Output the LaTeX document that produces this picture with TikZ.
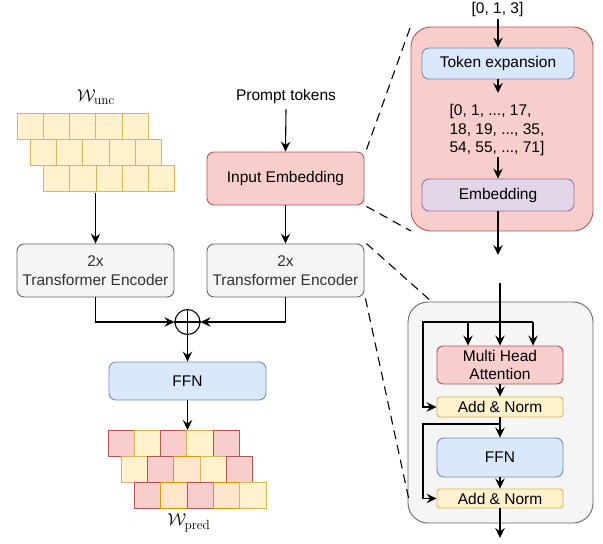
\documentclass[tikz,border=0pt]{standalone}
\usepackage{fontspec}
\setsansfont{Liberation Sans}
\usetikzlibrary{arrows.meta}

\definecolor{yfill}{HTML}{FFF2CC}\definecolor{ydraw}{HTML}{D6B656}
\definecolor{rfill}{HTML}{F8CECC}\definecolor{rdraw}{HTML}{B85450}
\definecolor{bfill}{HTML}{DAE8FC}\definecolor{bdraw}{HTML}{6C8EBF}
\definecolor{pfill}{HTML}{E1D5E7}\definecolor{pdraw}{HTML}{9673A6}
\definecolor{gfill}{HTML}{F5F5F5}\definecolor{gdraw}{HTML}{666666}
\definecolor{ofill}{HTML}{FFE6CC}\definecolor{odraw}{HTML}{D79B00}
\definecolor{gtext}{HTML}{333333}

\tikzset{
  txt/.style={font=\sffamily\fontsize{15.5}{18.5}\selectfont, inner sep=0pt},
  box/.style={txt, draw, line width=0.9pt, rounded corners=7pt, align=center},
  redbox/.style={box, fill=rfill, draw=rdraw},
  bluebox/.style={box, fill=bfill, draw=bdraw},
  purplebox/.style={box, fill=pfill, draw=pdraw},
  greybox/.style={box, fill=gfill, draw=gdraw, text=gtext},
  yellowbox/.style={box, fill=yfill, draw=ydraw, rounded corners=3pt},
  arr/.style={-{Stealth[length=10pt,width=9.5pt,inset=3.5pt]}, line width=1.1pt},
  wire/.style={line width=1.1pt},
  zoomline/.style={line width=1.1pt, dash pattern=on 9pt off 6pt},
  cellY/.style={fill=yfill, draw=ydraw, line width=0.9pt},
  cellR/.style={fill=rfill, draw=rdraw, line width=0.9pt},
  cellO/.style={fill=ofill, draw=odraw, line width=0.9pt},
  wlabel/.style={inner sep=0pt, font=\fontsize{19}{22}\selectfont},
}

\begin{document}
\begin{tikzpicture}[x=1pt, y=-1pt]
\useasboundingbox (0,0) rectangle (603,544);

% ---------- weight grid (input) ----------
\def\cw{26.3}
\foreach \r/\xo in {0/17, 1/30.2, 2/43.4}{
  \foreach \c in {0,...,4}{
    \draw[cellY] ({\xo+\c*\cw}, {113+\r*\cw}) rectangle ++(\cw,\cw);
  }
}
\coordinate (gridin) at (95.5,192.5);
\node[wlabel] (wunc) at (96,97) {$\mathcal{W}_{\mathrm{unc}}$};

% ---------- prompt branch ----------
\node[txt] (prompt) at (286,96) {Prompt tokens};
\node[redbox, minimum width=157pt, minimum height=53pt] (emb) at (285.5,178.5) {Input Embedding};
\node[greybox, minimum width=157pt, minimum height=53pt] (enc2) at (285.5,270.5) {2x\\Transformer Encoder};
\node[greybox, minimum width=157pt, minimum height=53pt] (enc1) at (95.5,270.5) {2x\\Transformer Encoder};

\draw[arr] (prompt.south) ++(0,6) -- (emb.north);
\draw[arr] (emb.south) -- (enc2.north);
\draw[arr] (gridin) -- (enc1.north);

% ---------- fusion ----------
\node[circle, draw, line width=1.1pt, minimum size=25pt, inner sep=0pt] (sum) at (187.5,322) {};
\draw[line width=1.1pt] (sum.north) -- (sum.south) (sum.west) -- (sum.east);
\draw[arr] (enc1.south) |- (sum.west);
\draw[arr] (enc2.south) |- (sum.east);

\node[bluebox, minimum width=157pt, minimum height=38pt] (ffn) at (187.5,381) {FFN};
\draw[arr] (sum.south) -- (ffn.north);

% ---------- weight grid (prediction) ----------
\foreach \r/\xo/\cols in {0/108/{R,Y,R,Y,R}, 1/121.3/{Y,R,O,Y,R}, 2/134.6/{R,O,R,O,Y}}{
  \foreach \k [count=\c from 0] in \cols{
    \draw[cell\k] ({\xo+\c*\cw}, {430+\r*\cw}) rectangle ++(\cw,\cw);
  }
}
\coordinate (gridout) at (187.5,430);
\draw[arr] (ffn.south) -- (gridout);
\node[wlabel] (wpred) at (189,523) {$\mathcal{W}_{\mathrm{pred}}$};

% ---------- input embedding detail ----------
\node[txt] (ids) at (497.5,9) {[0, 1, 3]};
\draw[fill=rfill, draw=rdraw, line width=0.9pt, rounded corners=20pt] (411,27) rectangle (593,231);
\node[bluebox, minimum width=152pt, minimum height=31pt] (tok) at (498,63.5) {Token expansion};
\node[txt, align=left] (list) at (497,130) {[0, 1, ..., 17,\\18, 19, ..., 35,\\54, 55, ..., 71]};
\node[purplebox, minimum width=152pt, minimum height=32pt] (embd) at (498,195) {Embedding};
\coordinate (tokout) at (498,93);
\coordinate (embout) at (498,255);
\draw[arr] (ids.south) ++(0.5,3) -- (tok.north);
\draw[arr] (tok.south) -- (tokout);
\draw[arr] (list.south) ++(1,1) -- (embd.north);
\draw[arr] (embd.south) -- (embout);

% ---------- encoder layer detail ----------
\draw[fill=gfill, draw=gdraw, line width=0.9pt, rounded corners=20pt] (408,302) rectangle (593,523);
\node[redbox, minimum width=126pt, minimum height=38pt, rounded corners=6pt] (mha) at (500,365) {Multi Head\\Attention};
\node[yellowbox, minimum width=126pt, minimum height=20pt] (an1) at (500,407) {Add \& Norm};
\node[bluebox, minimum width=126pt, minimum height=39pt] (ffn2) at (500,457.5) {FFN};
\node[yellowbox, minimum width=126pt, minimum height=19pt] (an2) at (500,498.5) {Add \& Norm};

\coordinate (lin) at (500,283);
\coordinate (split) at (500,322);
\coordinate (split2) at (500,424);
\coordinate (lout) at (500,538);
\draw[wire] (lin) -- (split);
\draw[wire] ([xshift=-32pt]split) -- ([xshift=33pt]split);
\draw[arr] (split) -- (mha.north);
\draw[arr] ([xshift=-32pt]split) -- ([xshift=-32pt]mha.north);
\draw[arr] ([xshift=33pt]split) -- ([xshift=33pt]mha.north);
\draw[arr] (split) -- (423,322) |- (an1.west);
\draw[arr] (mha.south) -- (an1.north);
\draw[arr] (an1.south) -- (ffn2.north);
\draw[arr] (split2) -- (423,424) |- (an2.west);
\draw[arr] (ffn2.south) -- (an2.north);
\draw[arr] (an2.south) -- (lout);

% ---------- zoom guides ----------
\draw[zoomline] (emb.north east) ++(2,-2) -- (410,28);
\draw[zoomline] (emb.south east) ++(2,1) -- (411,231);
\draw[zoomline] (enc2.north east) ++(2,0) -- (432,302);
\draw[zoomline] (enc2.south east) ++(1,1) -- (409,500);
\end{tikzpicture}
\end{document}
